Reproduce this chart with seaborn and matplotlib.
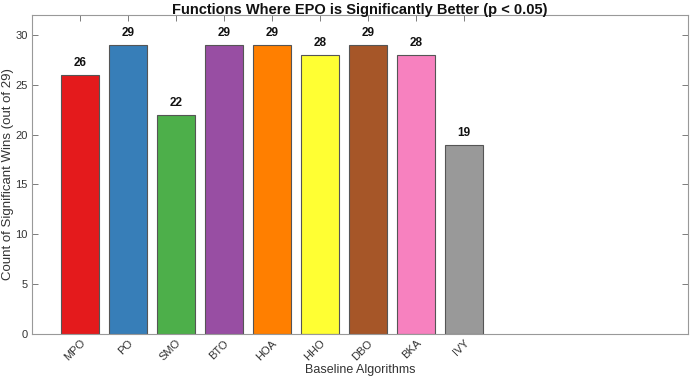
import matplotlib
matplotlib.use("Agg")
import matplotlib.pyplot as plt
import seaborn as sns
import pandas as pd

algorithms = ["MPO", "PO", "SMO", "BTO", "HOA", "HHO", "DBO", "BKA", "IVY"]
wins = [26, 29, 22, 29, 29, 28, 29, 28, 19]
colors = ["#e41a1c", "#377eb8", "#4daf4a", "#984ea3", "#ff7f00",
          "#ffff33", "#a65628", "#f781bf", "#999999"]

sns.set_style("white")
plt.rcParams["font.family"] = ["Liberation Sans Narrow", "Liberation Sans", "DejaVu Sans"]

df = pd.DataFrame({"alg": algorithms, "wins": wins})
fig = plt.figure(figsize=(6.91, 3.79), dpi=100)
ax = fig.add_axes([0.046, 0.119, 0.9497, 0.841])
sns.barplot(data=df, x="alg", y="wins", hue="alg", palette=colors,
            width=0.8, edgecolor="#555555", linewidth=0.8, saturation=1,
            legend=False, ax=ax)

for i, v in enumerate(wins):
    ax.text(i, v + 0.6, str(v), ha="center", va="bottom",
            fontsize=8.5, fontweight="bold", color="#111111")

ax.set_xlim(-1, 12.67)
ax.set_ylim(0, 32)
ax.set_yticks([0, 5, 10, 15, 20, 25, 30])
ax.tick_params(axis="both", direction="in", length=4, width=0.6,
               color="#666666", labelsize=8, labelcolor="#333333",
               top=True, right=True, bottom=True, left=True, pad=3)
for lab in ax.get_xticklabels():
    lab.set_rotation(45)
    lab.set_ha("right")
    lab.set_rotation_mode("anchor")
ax.set_xlabel("Baseline Algorithms", fontsize=9, color="#333333", labelpad=1)
ax.set_ylabel("Count of Significant Wins (out of 29)", fontsize=9.5,
              color="#333333", va="center")
ax.yaxis.set_label_coords(-0.036, 0.5)
ax.set_title("Functions Where EPO is Significantly Better (p < 0.05)",
             fontsize=10.5, fontweight="bold", color="#111111", pad=1)
for s in ax.spines.values():
    s.set_color("#999999")
    s.set_linewidth(0.8)

fig.savefig("out.png", dpi=100)
